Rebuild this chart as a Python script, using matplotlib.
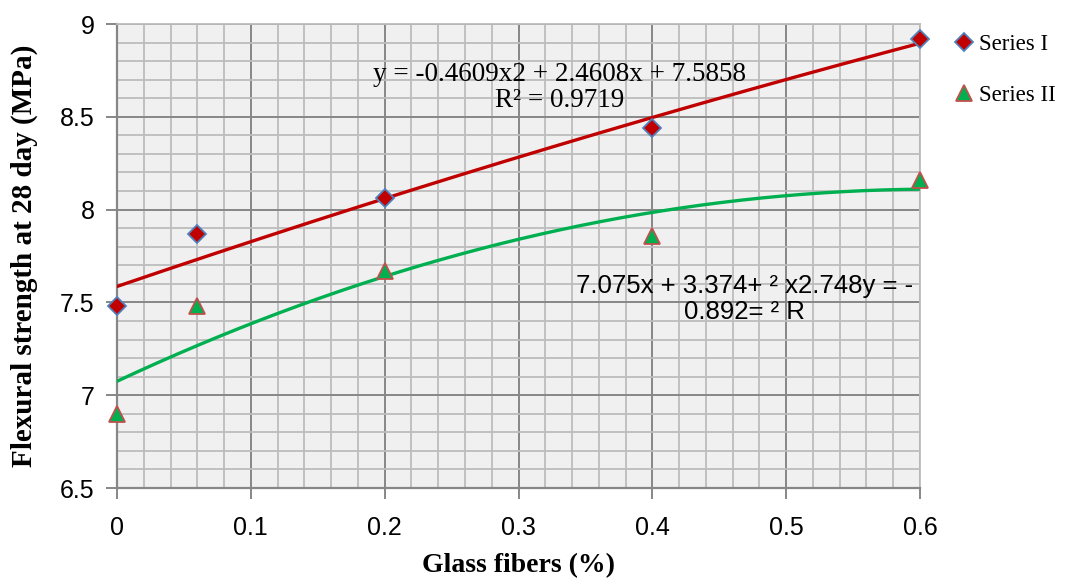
import numpy as np
import matplotlib
matplotlib.use("Agg")
import matplotlib.pyplot as plt
from matplotlib.ticker import MultipleLocator

# ---- data ----
x_vals = [0, 0.06, 0.2, 0.4, 0.6]
series1 = [7.48, 7.87, 8.06, 8.44, 8.92]
series2 = [6.90, 7.48, 7.67, 7.86, 8.16]
coef1 = [-0.4609, 2.4608, 7.5858]   # trendline Series I
coef2 = [-2.748, 3.374, 7.075]      # trendline Series II
x_ticks = [0, 0.1, 0.2, 0.3, 0.4, 0.5, 0.6]
y_ticks = [6.5, 7, 7.5, 8, 8.5, 9]
eq1_text = "y = -0.4609x2 + 2.4608x + 7.5858\nR² = 0.9719"
eq2_text = "7.075x + 3.374+ ² x2.748y = -\n0.892= ² R"
xlabel = "Glass fibers (%)"
ylabel = "Flexural strength at 28 day (MPa)"
names = ["Series I", "Series II"]

fig = plt.figure(figsize=(10.77, 5.78), dpi=100)
ax = fig.add_axes([117/1077, 1-488/578, (920-117)/1077, (488-24)/578])
ax.set_facecolor("#F0F0F0")

ax.set_xlim(0, 0.6)
ax.set_ylim(6.5, 9)
ax.xaxis.set_major_locator(MultipleLocator(0.1))
ax.xaxis.set_minor_locator(MultipleLocator(0.02))
ax.yaxis.set_major_locator(MultipleLocator(0.5))
ax.yaxis.set_minor_locator(MultipleLocator(0.1))
ax.set_xticks(x_ticks)
ax.set_yticks(y_ticks)
ax.set_xticklabels([f"{v:g}" for v in x_ticks], fontfamily="Liberation Sans", fontsize=18)
ax.set_yticklabels([f"{v:g}" for v in y_ticks], fontfamily="Liberation Sans", fontsize=18)

ax.grid(which="minor", color="#BDBDBD", linewidth=1.3, zorder=0)
ax.grid(which="major", color="#878787", linewidth=1.4, zorder=0)
ax.set_axisbelow(True)
ax.tick_params(which="minor", length=0)
ax.tick_params(axis="x", which="major", length=8, width=1.4, color="#878787", pad=12)
ax.tick_params(axis="y", which="major", length=8, width=1.4, color="#878787", pad=8)
for s in ["top", "right"]:
    ax.spines[s].set_color("#BDBDBD")
    ax.spines[s].set_linewidth(1.3)
for s in ["left", "bottom"]:
    ax.spines[s].set_color("#878787")
    ax.spines[s].set_linewidth(1.6)

xs = np.linspace(0, 0.6, 200)
ax.plot(xs, np.polyval(coef1, xs), color="#C00000", lw=2.4, zorder=3)
ax.plot(xs, np.polyval(coef2, xs), color="#00B050", lw=2.4, zorder=3)

ax.plot(x_vals, series1, linestyle="none", marker="D", markersize=9,
        markerfacecolor="#C00000", markeredgecolor="#4F81BD", markeredgewidth=1.3,
        label=names[0], zorder=5, clip_on=False)
ax.plot(x_vals, series2, linestyle="none", marker="^", markersize=12,
        markerfacecolor="#00B050", markeredgecolor="#C0504D", markeredgewidth=1.3,
        label=names[1], zorder=5, clip_on=False)

ax.text(0.331, 8.658, eq1_text, ha="center", va="center", fontsize=19.5,
        fontfamily="Liberation Serif", linespacing=1.05, zorder=4)
ax.text(0.469, 7.516, eq2_text, ha="center", va="center", fontsize=18.5,
        fontfamily="Liberation Sans", linespacing=1.1, zorder=4)

ax.set_xlabel(xlabel, fontfamily="Liberation Serif", fontweight="bold", fontsize=20)
ax.set_ylabel(ylabel, fontfamily="Liberation Serif", fontweight="bold", fontsize=21)
ax.xaxis.set_label_coords(0.5, -0.168)
ax.yaxis.set_label_coords(-0.115, 0.5)
ax.xaxis.label.set_va("center")
ax.yaxis.label.set_va("center")

leg = fig.legend(loc="upper left", bbox_to_anchor=(953/1077, 1-34/578), frameon=False,
                 borderpad=0, borderaxespad=0,
                 prop={"family": "Liberation Serif", "size": 16.5}, handletextpad=0.12,
                 handlelength=1.0, labelspacing=1.3)

fig.savefig("out.png", dpi=100)
